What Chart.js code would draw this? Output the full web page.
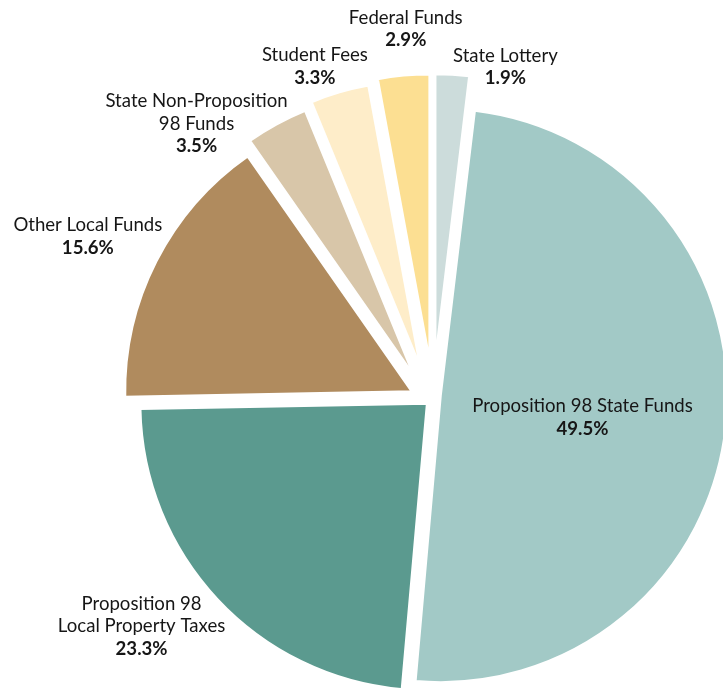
<!DOCTYPE html>
<html><head><meta charset="utf-8">
<script src="https://cdn.jsdelivr.net/npm/chart.js@4.4.1/dist/chart.umd.min.js"></script>
<style>html,body{margin:0;padding:0;background:#fff;overflow:hidden}
#wrap{position:relative;width:723px;height:688px}</style>
</head><body><div id="wrap"><canvas id="c" width="723" height="688"></canvas></div>
<script>
// ---- data ----
const categories = ['State Lottery', 'Proposition 98 State Funds', 'Proposition 98\nLocal Property Taxes', 'Other Local Funds', 'State Non-Proposition\n98 Funds', 'Student Fees', 'Federal Funds'];
const shares = [1.9, 49.5, 23.3, 15.6, 3.5, 3.3, 2.9];

// ---- styles ----
const sliceColors = ['#ccdcdb', '#a2c9c6', '#5b9a8f', '#b08b5e', '#d8c6a9', '#feedc9', '#fcdf92'];
const explodeDist = [37, 8, 8, 22, 29, 33, 37];
const explodeTurn = [0, -25, 0, -10, -12, -6, 0];
const labelDist = [1.182, 0.525, 1.289, 1.328, 1.263, 1.228, 1.290];
const labelTurn = [8.9, 1.3, 5.0, -1.9, -12.1, -3.2, 1.0];
const FONT_FAMILY = 'Lato, "Open Sans", sans-serif';
const FONT_SIZE = 18.6;
const LINE_H = 22.7;
const CAP = 12.7;

const explodePlugin = {
  id: 'explode',
  afterDatasetUpdate(chart, args) {
    args.meta.data.forEach((arc, i) => {
      const mid = (arc.startAngle + arc.endAngle) / 2 + explodeTurn[i] * Math.PI / 180;
      arc.x += Math.cos(mid) * explodeDist[i];
      arc.y += Math.sin(mid) * explodeDist[i];
    });
  }
};

const labelPlugin = {
  id: 'sliceLabels',
  afterDatasetsDraw(chart) {
    const ctx = chart.ctx;
    const meta = chart.getDatasetMeta(0);
    const ca = chart.chartArea;
    const cx = (ca.left + ca.right) / 2, cy = (ca.top + ca.bottom) / 2;
    ctx.save();
    ctx.fillStyle = '#161616';
    ctx.textAlign = 'center';
    ctx.textBaseline = 'alphabetic';
    meta.data.forEach((arc, i) => {
      const mid = (arc.startAngle + arc.endAngle) / 2 + labelTurn[i] * Math.PI / 180;
      const r = arc.outerRadius * labelDist[i];
      const x = cx + Math.cos(mid) * r, y = cy + Math.sin(mid) * r;
      const lines = categories[i].split('\n').concat([shares[i].toFixed(1) + '%']);
      const n = lines.length;
      lines.forEach((t, j) => {
        ctx.font = (j === n - 1 ? 'bold ' : '') + FONT_SIZE + 'px ' + FONT_FAMILY;
        ctx.fillText(t, x, y + CAP / 2 + (j - (n - 1) / 2) * LINE_H);
      });
    });
    ctx.restore();
  }
};

new Chart(document.getElementById('c'), {
  type: 'pie',
  data: {
    labels: categories,
    datasets: [{
      data: shares,
      backgroundColor: sliceColors,
      borderColor: '#ffffff',
      borderWidth: 2.5,
      clip: false
    }]
  },
  options: {
    responsive: false,
    animation: false,
    events: [],
    rotation: 0,
    radius: 287,
    layout: { padding: { left: 143, top: 108, right: 0, bottom: 0 } },
    plugins: { legend: { display: false }, tooltip: { enabled: false } }
  },
  plugins: [explodePlugin, labelPlugin]
});
</script>
</body></html>
